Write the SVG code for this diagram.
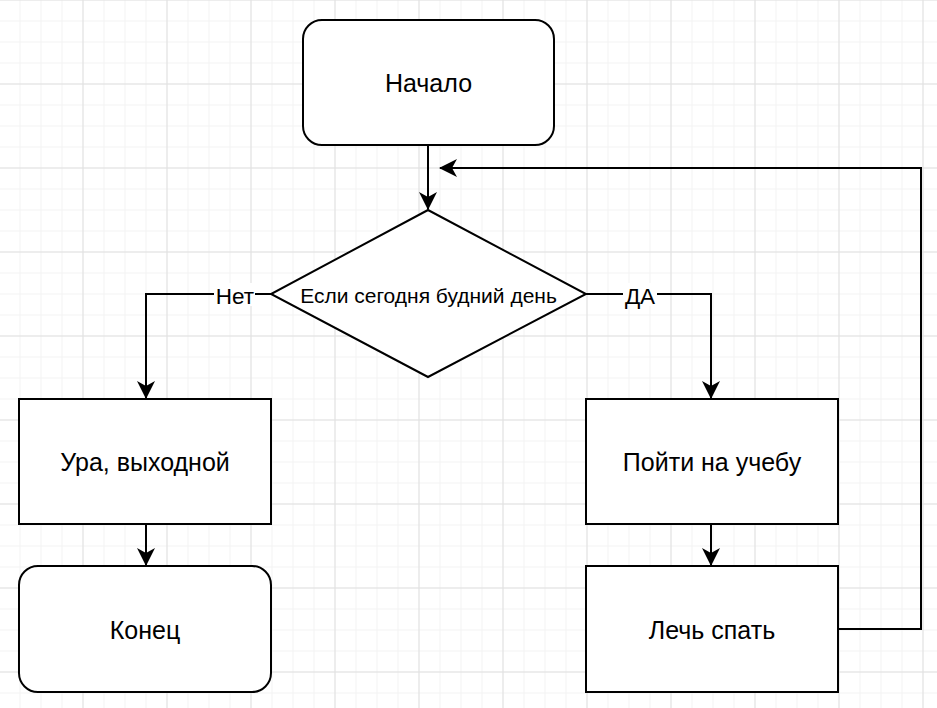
<svg xmlns="http://www.w3.org/2000/svg" width="937" height="708" viewBox="0 0 937 708">
<defs>
<pattern id="minor" x="-1.5" y="-0.5" width="21" height="21" patternUnits="userSpaceOnUse">
<path d="M0 0.5H21M0.5 0V21" fill="none" stroke="#f3f3f3" stroke-width="1"/>
</pattern>
<pattern id="major" x="-1.5" y="-0.5" width="84" height="84" patternUnits="userSpaceOnUse">
<path d="M0 0.5H84M0.5 0V84" fill="none" stroke="#e0e0e0" stroke-width="1"/>
</pattern>
<marker id="arr" viewBox="0 0 18 18" refX="17" refY="9" markerWidth="18" markerHeight="18" markerUnits="userSpaceOnUse" orient="auto">
<path d="M0 0L18 9L0 18L5 9Z" fill="#000"/>
</marker>
</defs>
<style>
.box{fill:#fff;stroke:#000;stroke-width:2}
.t{font-family:"Liberation Sans",Arial,sans-serif;font-size:25px;fill:#000;text-anchor:middle;dominant-baseline:central}
.s{font-size:21px}
.lbl{font-family:"Liberation Sans",Arial,sans-serif;font-size:22.5px;fill:#000;text-anchor:middle;dominant-baseline:central}
.c{fill:none;stroke:#000;stroke-width:2}
</style>
<rect width="937" height="708" fill="#fff"/>
<rect width="937" height="708" fill="url(#minor)"/>
<rect width="937" height="708" fill="url(#major)"/>
<g id="connectors">
<path class="c" d="M428 145V209" marker-end="url(#arr)"/>
<path class="c" d="M271 294H146V398" marker-end="url(#arr)"/>
<path class="c" d="M586 294H711V398" marker-end="url(#arr)"/>
<path class="c" d="M146 524V565" marker-end="url(#arr)"/>
<path class="c" d="M711 524V565" marker-end="url(#arr)"/>
<path class="c" d="M838 629H921V168H440" marker-end="url(#arr)"/>
<rect x="214" y="283" width="41" height="23" fill="#fff"/>
<text class="lbl" x="235" y="296">Нет</text>
<rect x="623" y="283" width="34" height="23" fill="#fff"/>
<text class="lbl" x="640" y="296">ДА</text>
</g>
<g id="start">
<rect class="box" x="303" y="20" width="251" height="125" rx="19"/>
<text class="t" x="428.5" y="83">Начало</text>
</g>
<g id="decision">
<path class="box" d="M428 210L586 294L428 377L271 294Z"/>
<text class="t s" x="428.5" y="295">Если сегодня будний день</text>
</g>
<g id="weekend">
<rect class="box" x="19" y="399" width="252" height="125"/>
<text class="t" x="145" y="462">Ура, выходной</text>
</g>
<g id="end">
<rect class="box" x="19" y="566" width="252" height="126" rx="19"/>
<text class="t" x="145" y="630">Конец</text>
</g>
<g id="study">
<rect class="box" x="586" y="399" width="252" height="125"/>
<text class="t" x="712" y="462">Пойти на учебу</text>
</g>
<g id="sleep">
<rect class="box" x="586" y="566" width="252" height="126"/>
<text class="t" x="712" y="630">Лечь спать</text>
</g>
</svg>
